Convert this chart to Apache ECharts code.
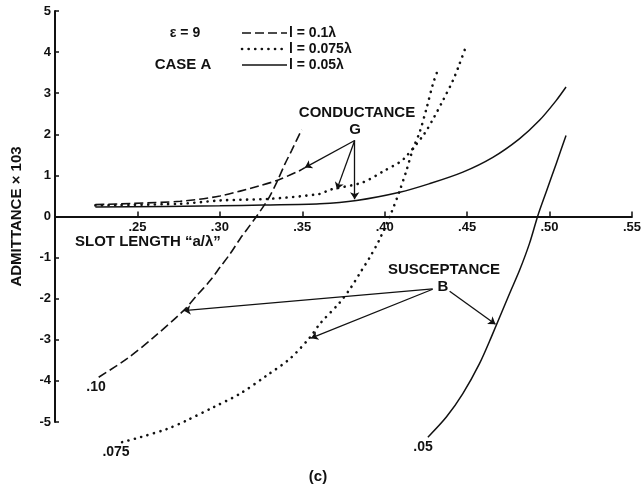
<!DOCTYPE html>
<html><head><meta charset="utf-8">
<script src="https://cdn.jsdelivr.net/npm/echarts@6/dist/echarts.min.js"></script>
<style>html,body{margin:0;padding:0;background:#fff}#c{width:644px;height:486px}</style>
</head><body><div id="c"></div>
<script>
// ---- data (slot length a/λ, admittance ×10^3) ----
const xTicks = ['.20', '.25', '.30', '.35', '.40', '.45', '.50', '.55'];
const yTicks = ['-5', '-4', '-3', '-2', '-1', '0', '1', '2', '3', '4', '5'];

const g010 = [[0.2245,0.29],[0.276,0.37],[0.300,0.50],[0.3244,0.75],[0.3355,0.89],[0.3486,1.12],[0.3516,1.19]];
const b010 = [[0.2265,-3.91],[0.2437,-3.46],[0.2598,-2.94],[0.2780,-2.29],[0.2861,-1.92],[0.2941,-1.56],[0.3002,-1.23],[0.3062,-0.91],[0.3123,-0.54],[0.3163,-0.32],[0.3222,0],[0.3294,0.43],[0.3345,0.83],[0.3395,1.28],[0.3436,1.61],[0.3496,2.11]];

const g075 = [[0.2245,0.27],[0.276,0.31],[0.300,0.39],[0.330,0.43],[0.3607,0.55],[0.3667,0.65],[0.3867,0.83],[0.400,1.12],[0.409,1.32],[0.413,1.46],[0.424,2.01],[0.430,2.42],[0.4353,2.82],[0.4414,3.31],[0.445,3.67],[0.4495,4.16]];
const b075 = [[0.2407,-5.49],[0.2518,-5.37],[0.2679,-5.17],[0.280,-4.96],[0.2961,-4.64],[0.3123,-4.31],[0.3284,-3.87],[0.3425,-3.46],[0.3547,-2.94],[0.3607,-2.61],[0.3728,-2.09],[0.3795,-1.73],[0.3854,-1.35],[0.3910,-0.99],[0.3966,-0.58],[0.4041,0.10],[0.4091,0.63],[0.4132,1.12],[0.4172,1.65],[0.4212,2.05],[0.4253,2.62],[0.4293,3.23],[0.4323,3.57]];

const g005 = [[0.2245,0.23],[0.300,0.26],[0.3264,0.28],[0.3607,0.31],[0.3829,0.39],[0.4091,0.59],[0.4273,0.80],[0.4474,1.08],[0.4656,1.44],[0.4817,1.89],[0.4939,2.34],[0.504,2.82],[0.510,3.15]];
const b005 = [[0.4262,-5.37],[0.4374,-4.88],[0.4474,-4.31],[0.4575,-3.58],[0.4646,-2.94],[0.4757,-1.88],[0.4818,-1.31],[0.4878,-0.66],[0.4929,0.02],[0.4979,0.59],[0.504,1.28],[0.510,1.97]];

// annotation arrows (data coords): [from, to]
const arrowsG = [[[0.3818,1.85],[0.3516,1.19]], [[0.3818,1.85],[0.371,0.66]], [[0.3818,1.85],[0.3818,0.42]]];
const arrowsB = [[[0.4291,-1.76],[0.278,-2.29]], [[0.4291,-1.77],[0.3553,-2.96]], [[0.4394,-1.82],[0.4672,-2.62]]];

const legendLabels = ['l = 0.1λ', 'l = 0.075λ', 'l = 0.05λ'];
const curveLabels = ['.10', '.075', '.05'];

// ---- styles ----
const F = 'Liberation Sans, Arial, Helvetica, sans-serif';
const dashed = { color: '#111', width: 1.6, type: [9, 4] };
const dotted = { color: '#111', width: 2.6, type: [0.1, 6.5], cap: 'round' };
const solid  = { color: '#111', width: 1.5, type: 'solid' };

function curve(data, ls) {
  return { type: 'line', data: data, smooth: 0.3, showSymbol: false, symbol: 'none', clip: false,
           lineStyle: ls, silent: true, animation: false, z: 3 };
}
function arrows(list) {
  return { type: 'lines', coordinateSystem: 'cartesian2d', silent: true, animation: false,
           symbol: ['none', 'arrow'], symbolSize: 7,
           lineStyle: { color: '#111', width: 1.3, opacity: 1, curveness: 0 },
           data: list.map(c => ({ coords: c })), z: 4 };
}
const txt = (x, y, t, size, align) => ({ type: 'text', x: x, y: y, silent: true,
  style: { text: t, font: 'bold ' + size + 'px ' + F, fill: '#111', align: align || 'left', verticalAlign: 'middle' } });
const seg = (x1, y1, x2, y2, ls) => ({ type: 'line', silent: true,
  shape: { x1: x1, y1: y1, x2: x2, y2: y2 },
  style: { stroke: '#111', lineWidth: ls.width, lineDash: Array.isArray(ls.type) ? ls.type : null, lineCap: ls.cap || 'butt' } });

const chart = echarts.init(document.getElementById('c'), null, { renderer: 'canvas' });
chart.setOption({
  backgroundColor: '#fff',
  animation: false,
  grid: { left: 55, right: 12, top: 11, bottom: 64, containLabel: false },
  xAxis: {
    type: 'value', min: 0.20, max: 0.55, interval: 0.05,
    position: 'bottom', offset: -205.5,
    axisLine: { onZero: false, lineStyle: { color: '#111', width: 2 } },
    axisTick: { inside: true, length: 5, lineStyle: { color: '#111', width: 1.5 } },
    splitLine: { show: false },
    axisLabel: { margin: 4, color: '#111', fontFamily: F, fontWeight: 'bold', fontSize: 13,
      formatter: v => { const i = Math.round((v - 0.20) / 0.05); return i === 0 ? '' : xTicks[i]; } }
  },
  yAxis: {
    type: 'value', min: -5, max: 5, interval: 1,
    axisLine: { show: true, onZero: false, lineStyle: { color: '#111', width: 2 } },
    axisTick: { show: true, inside: true, length: 4, lineStyle: { color: '#111', width: 1.5 } },
    splitLine: { show: false },
    axisLabel: { margin: 4, color: '#111', fontFamily: F, fontWeight: 'bold', fontSize: 13,
      formatter: v => yTicks[Math.round(v) + 5] },
    name: 'ADMITTANCE × 103', nameLocation: 'middle', nameGap: 31, nameRotate: 90,
    nameTextStyle: { color: '#111', fontFamily: F, fontWeight: 'bold', fontSize: 15 }
  },
  series: [
    curve(g010, dashed), curve(b010, dashed),
    curve(g075, dotted), curve(b075, dotted),
    curve(g005, solid), curve(b005, solid),
    arrows(arrowsG), arrows(arrowsB)
  ],
  graphic: [
    txt(185, 33, 'ε = 9', 14, 'center'),
    txt(183, 65, 'CASE A', 15, 'center'),
    seg(242, 33, 287, 33, dashed),
    seg(242, 49, 287, 49, dotted),
    seg(242, 65, 287, 65, solid),
    txt(289, 33, legendLabels[0], 14),
    txt(289, 49, legendLabels[1], 14),
    txt(289, 65, legendLabels[2], 14),
    txt(357, 113, 'CONDUCTANCE', 15, 'center'),
    txt(355, 130, 'G', 15, 'center'),
    txt(444, 270, 'SUSCEPTANCE', 15, 'center'),
    txt(443, 287, 'B', 15, 'center'),
    txt(75, 242, 'SLOT LENGTH “a/λ”', 15),
    txt(96, 387, curveLabels[0], 14, 'center'),
    txt(116, 452, curveLabels[1], 14, 'center'),
    txt(423, 447, curveLabels[2], 14, 'center'),
    txt(318, 477, '(c)', 15, 'center')
  ]
});
</script></body></html>
